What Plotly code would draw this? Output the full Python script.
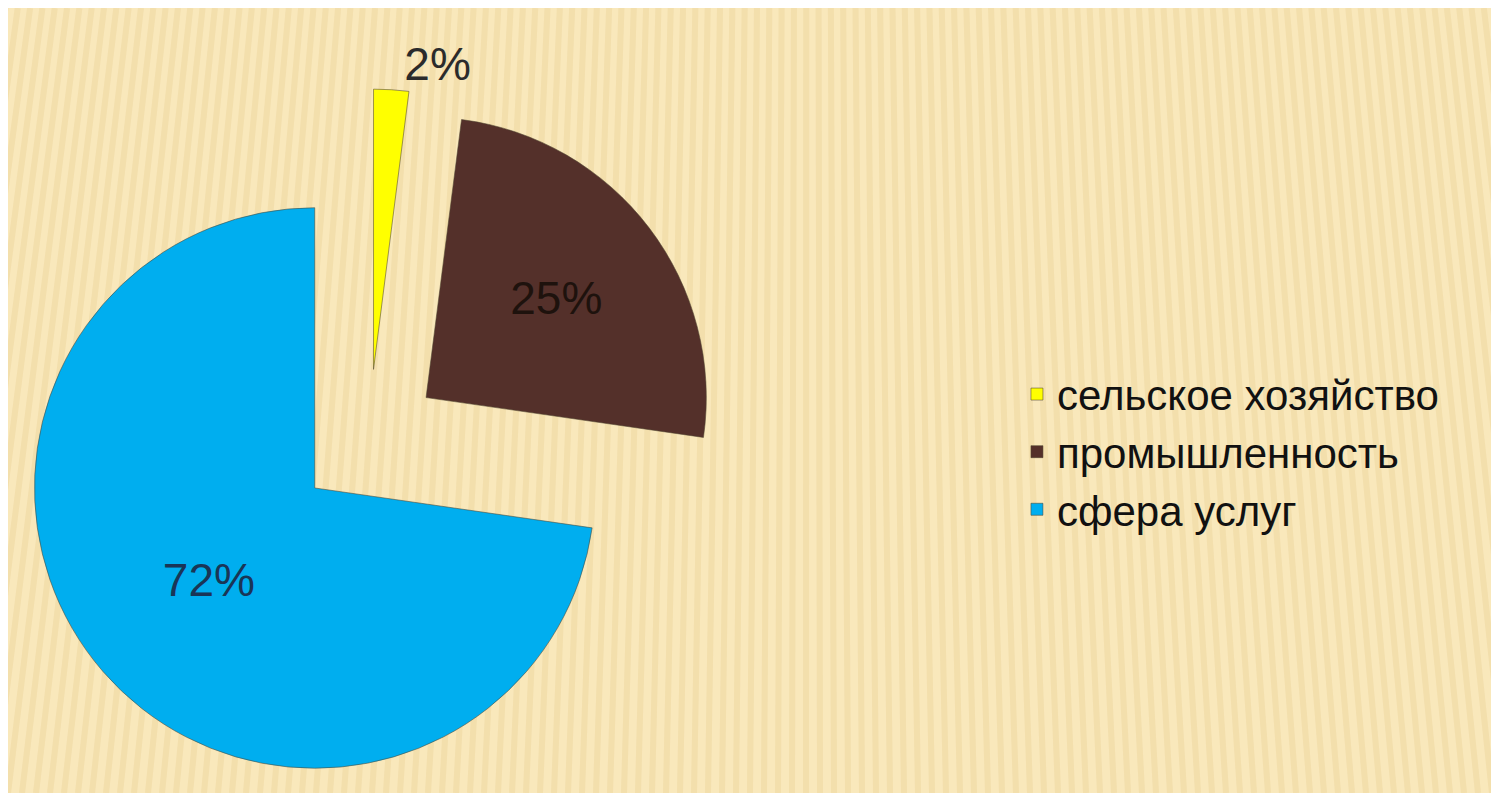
import plotly.graph_objects as go

categories = ["сельское хозяйство", "промышленность", "сфера услуг"]
shares = [2, 25, 72]
label_text = ["2%", "25%", "72%"]
colors = ["#FFFF00", "#54302A", "#00AEEF"]
label_colors = ["#2B2B2B", "#1E120D", "#1A3556"]
label_positions = ["outside", "inside", "inside"]

FIG_W, FIG_H = 1491, 785
TOP = 81

fig = go.Figure(
    go.Pie(
        labels=categories,
        values=shares,
        text=label_text,
        textinfo="text",
        textposition=label_positions,
        insidetextorientation="horizontal",
        textfont=dict(family="Liberation Sans, Arial, sans-serif", size=46, color=label_colors),
        marker=dict(colors=colors, line=dict(color="rgba(80,70,50,0.55)", width=1)),
        pull=[0.256, 0.256, 0.256],
        sort=False,
        direction="clockwise",
        rotation=0,
        domain=dict(x=[0, 0.4842], y=[0, 1]),
        hoverinfo="label+percent",
    )
)

# decorative striped background (theme texture)
plot_h = FIG_H - TOP
y_top = 1 + TOP / plot_h
stripes = []
step = 14
for i in range(-20, FIG_W // step + 20):
    xb = i * step
    xt = xb - 0.12 * (xb - 800)
    stripes.append(dict(
        type="line", xref="paper", yref="paper",
        x0=xb / FIG_W, y0=0, x1=xt / FIG_W, y1=y_top,
        line=dict(color="rgba(214,178,98,0.17)", width=6),
        layer="below",
    ))

fig.update_layout(
    width=FIG_W,
    height=FIG_H,
    margin=dict(l=0, r=0, t=TOP, b=0, autoexpand=False),
    paper_bgcolor="#F9E8BB",
    plot_bgcolor="#F9E8BB",
    shapes=stripes,
    showlegend=True,
    legend=dict(
        x=0.6767,
        y=0.4847,
        xanchor="left",
        yanchor="middle",
        font=dict(family="Liberation Sans, Arial, sans-serif", size=42, color="#111111"),
        bgcolor="rgba(0,0,0,0)",
    ),
)

fig.write_html("out.html")
